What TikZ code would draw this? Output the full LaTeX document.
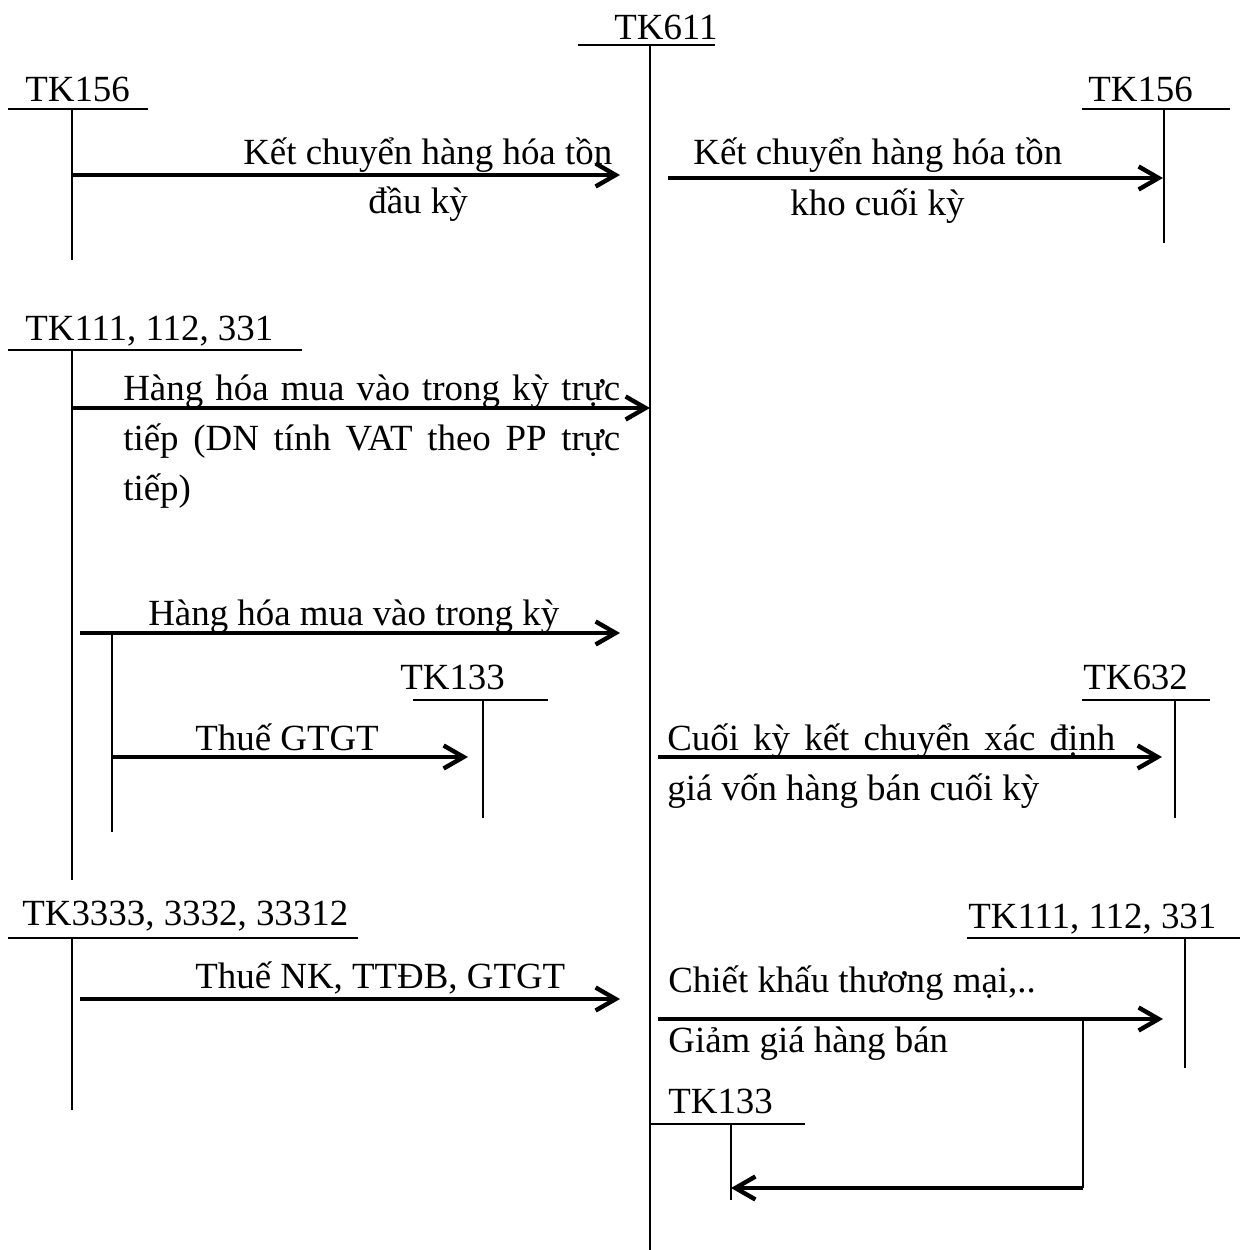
\documentclass[tikz,border=0pt]{standalone}
\usepackage{fontspec}
\setmainfont{Liberation Serif}
\usetikzlibrary{arrows.meta}

\begin{document}
\begin{tikzpicture}[x=0.02cm, y=-0.02cm,
    tk/.style={line width=1.1pt},
    muiten/.style={line width=2.5pt, -{Straight Barb[length=0.4cm, width=0.46cm]}},
    nhan/.style={inner sep=0pt, anchor=base west, font=\fontsize{21}{28.5}\selectfont}]
    \useasboundingbox (0,0) rectangle (1240,1250);

    % TK611 (giua)
    \node[nhan] (tk611) at (614,40) {TK611};
    \draw[tk] (578,45) -- (715,45);
    \draw[tk] (650,45) -- (650,1250);

    % TK156 trai
    \node[nhan] (tk156a) at (25,102) {TK156};
    \draw[tk] (8,109) -- (148,109);
    \draw[tk] (72,109) -- (72,260);
    % TK156 phai
    \node[nhan] (tk156b) at (1088,102) {TK156};
    \draw[tk] (1082,109) -- (1230,109);
    \draw[tk] (1164,109) -- (1164,243);

    % Ket chuyen ton dau ky / cuoi ky
    \coordinate (a1) at (72,175);
    \coordinate (b1) at (620,175);
    \draw[muiten] (a1) -- (b1);
    \node[nhan] (t1a) at (243,165) {Kết chuyển hàng hóa tồn};
    \node[nhan] (t1b) at (368,214) {đầu kỳ};
    \coordinate (a2) at (668,178);
    \coordinate (b2) at (1163,178);
    \draw[muiten] (a2) -- (b2);
    \node[nhan] (t2a) at (693,165) {Kết chuyển hàng hóa tồn};
    \node[nhan] (t2b) at (790,215) {kho cuối kỳ};

    % TK111, 112, 331 trai
    \node[nhan] (tk111a) at (25,340) {TK111, 112, 331};
    \draw[tk] (8,350) -- (302,350);
    \draw[tk] (72,350) -- (72,880);
    \coordinate (a3) at (72,408);
    \coordinate (b3) at (650,408);
    \draw[muiten] (a3) -- (b3);
    \node[nhan, text width=9.94cm, align=justify] (t3) at (123,400)
        {Hàng hóa mua vào trong kỳ trực tiếp (DN tính VAT theo PP trực tiếp)};

    % Hang hoa mua vao + thue GTGT
    \coordinate (a4) at (80,633);
    \coordinate (b4) at (620,633);
    \draw[muiten] (a4) -- (b4);
    \node[nhan] (t4) at (148,625) {Hàng hóa mua vào trong kỳ};
    \draw[tk] (112,633) -- (112,832);
    \node[nhan] (tk133a) at (400,689) {TK133};
    \draw[tk] (413,700) -- (548,700);
    \draw[tk] (483,700) -- (483,818);
    \coordinate (a5) at (112,757);
    \coordinate (b5) at (468,757);
    \draw[muiten] (a5) -- (b5);
    \node[nhan] (t5) at (195,750) {Thuế GTGT};

    % TK632
    \node[nhan] (tk632) at (1083,689) {TK632};
    \draw[tk] (1082,700) -- (1210,700);
    \draw[tk] (1175,700) -- (1175,818);
    \coordinate (a6) at (658,757);
    \coordinate (b6) at (1162,757);
    \draw[muiten] (a6) -- (b6);
    \node[nhan, text width=8.96cm, align=justify] (t6) at (667,750)
        {Cuối kỳ kết chuyển xác định giá vốn hàng bán cuối kỳ};

    % TK3333, 3332, 33312
    \node[nhan] (tk3333) at (22,925) {TK3333, 3332, 33312};
    \draw[tk] (8,938) -- (358,938);
    \draw[tk] (72,938) -- (72,1110);
    \coordinate (a7) at (80,999);
    \coordinate (b7) at (620,999);
    \draw[muiten] (a7) -- (b7);
    \node[nhan] (t7) at (195,988) {Thuế NK, TTĐB, GTGT};

    % TK111, 112, 331 phai
    \node[nhan] (tk111b) at (968,928) {TK111, 112, 331};
    \draw[tk] (967,938) -- (1240,938);
    \draw[tk] (1185,938) -- (1185,1068);
    \coordinate (a8) at (658,1019);
    \coordinate (b8) at (1163,1019);
    \draw[muiten] (a8) -- (b8);
    \node[nhan] (t8a) at (668,992) {Chiết khấu thương mại,..};
    \node[nhan] (t8b) at (668,1052) {Giảm giá hàng bán};

    % TK133 duoi
    \node[nhan] (tk133b) at (668,1113) {TK133};
    \draw[tk] (650,1124) -- (805,1124);
    \draw[tk] (731,1124) -- (731,1200);
    \coordinate (r9) at (1083,1019);
    \coordinate (a9) at (1083,1188);
    \coordinate (b9) at (731,1188);
    \draw[tk] (r9) -- (a9);
    \draw[muiten] (a9) -- (b9);
\end{tikzpicture}
\end{document}
